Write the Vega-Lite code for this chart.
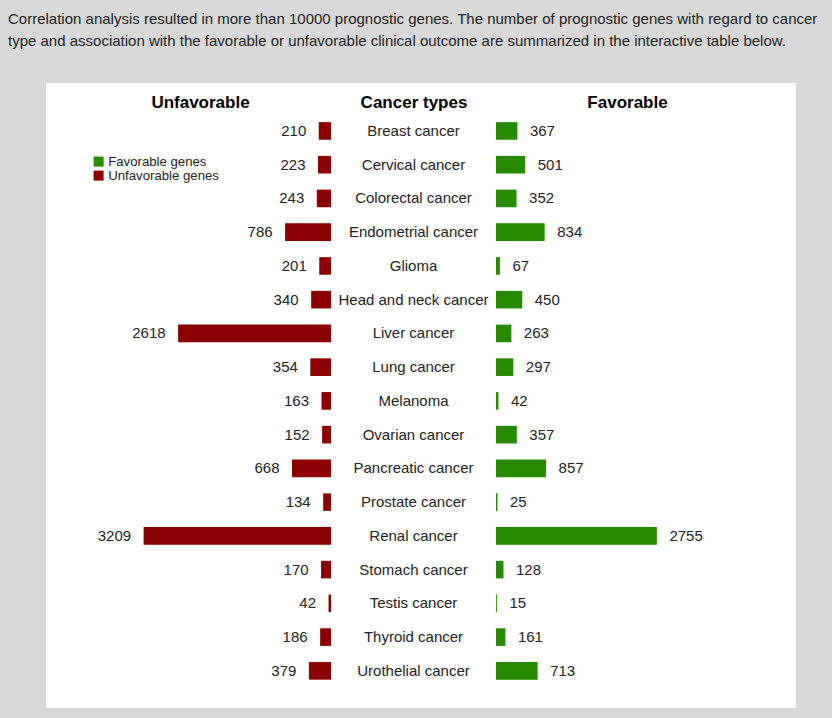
{
  "$schema": "https://vega.github.io/schema/vega-lite/v6.json",
  "background": "#d9d9d9",
  "padding": {"left": 8, "top": 12, "right": 40, "bottom": 16},
  "title": {
    "text": ["Correlation analysis resulted in more than 10000 prognostic genes. The number of prognostic genes with regard to cancer", "type and association with the favorable or unfavorable clinical outcome are summarized in the interactive table below."],
    "anchor": "start",
    "frame": "group",
    "font": "Liberation Sans",
    "fontSize": 15,
    "fontWeight": "normal",
    "color": "#222222",
    "lineHeight": 22,
    "dx": -38,
    "offset": 34
  },
  "config": {
    "axisY": {"domain": false, "ticks": false, "labels": false, "grid": false, "titleAngle": 0, "titleY": 19, "titleAlign": "center", "titleBaseline": "middle", "titleFont": "Liberation Sans", "titleFontSize": 17, "titleFontWeight": "bold", "titleColor": "#000000"}
  },
  "data": {"values": [
    {"cancer": "Breast cancer", "outcome": "Unfavorable genes", "genes": 210},
    {"cancer": "Breast cancer", "outcome": "Favorable genes", "genes": 367},
    {"cancer": "Cervical cancer", "outcome": "Unfavorable genes", "genes": 223},
    {"cancer": "Cervical cancer", "outcome": "Favorable genes", "genes": 501},
    {"cancer": "Colorectal cancer", "outcome": "Unfavorable genes", "genes": 243},
    {"cancer": "Colorectal cancer", "outcome": "Favorable genes", "genes": 352},
    {"cancer": "Endometrial cancer", "outcome": "Unfavorable genes", "genes": 786},
    {"cancer": "Endometrial cancer", "outcome": "Favorable genes", "genes": 834},
    {"cancer": "Glioma", "outcome": "Unfavorable genes", "genes": 201},
    {"cancer": "Glioma", "outcome": "Favorable genes", "genes": 67},
    {"cancer": "Head and neck cancer", "outcome": "Unfavorable genes", "genes": 340},
    {"cancer": "Head and neck cancer", "outcome": "Favorable genes", "genes": 450},
    {"cancer": "Liver cancer", "outcome": "Unfavorable genes", "genes": 2618},
    {"cancer": "Liver cancer", "outcome": "Favorable genes", "genes": 263},
    {"cancer": "Lung cancer", "outcome": "Unfavorable genes", "genes": 354},
    {"cancer": "Lung cancer", "outcome": "Favorable genes", "genes": 297},
    {"cancer": "Melanoma", "outcome": "Unfavorable genes", "genes": 163},
    {"cancer": "Melanoma", "outcome": "Favorable genes", "genes": 42},
    {"cancer": "Ovarian cancer", "outcome": "Unfavorable genes", "genes": 152},
    {"cancer": "Ovarian cancer", "outcome": "Favorable genes", "genes": 357},
    {"cancer": "Pancreatic cancer", "outcome": "Unfavorable genes", "genes": 668},
    {"cancer": "Pancreatic cancer", "outcome": "Favorable genes", "genes": 857},
    {"cancer": "Prostate cancer", "outcome": "Unfavorable genes", "genes": 134},
    {"cancer": "Prostate cancer", "outcome": "Favorable genes", "genes": 25},
    {"cancer": "Renal cancer", "outcome": "Unfavorable genes", "genes": 3209},
    {"cancer": "Renal cancer", "outcome": "Favorable genes", "genes": 2755},
    {"cancer": "Stomach cancer", "outcome": "Unfavorable genes", "genes": 170},
    {"cancer": "Stomach cancer", "outcome": "Favorable genes", "genes": 128},
    {"cancer": "Testis cancer", "outcome": "Unfavorable genes", "genes": 42},
    {"cancer": "Testis cancer", "outcome": "Favorable genes", "genes": 15},
    {"cancer": "Thyroid cancer", "outcome": "Unfavorable genes", "genes": 186},
    {"cancer": "Thyroid cancer", "outcome": "Favorable genes", "genes": 161},
    {"cancer": "Urothelial cancer", "outcome": "Unfavorable genes", "genes": 379},
    {"cancer": "Urothelial cancer", "outcome": "Favorable genes", "genes": 713}
  ]},
  "spacing": 0,
  "resolve": {"scale": {"x": "independent", "y": "shared", "color": "shared"}, "axis": {"y": "independent"}, "legend": {"color": "shared"}},
  "hconcat": [
    {
      "width": 285,
      "height": 625,
      "view": {"fill": "white", "stroke": null},
      "transform": [{"filter": "datum.outcome === 'Unfavorable genes'"}],
      "encoding": {
        "y": {"field": "cancer", "type": "nominal", "sort": null,
              "axis": {"title": "Unfavorable", "titleX": 154},
              "scale": {"paddingInner": 0.478, "paddingOuter": 1.0, "align": 0.58}},
        "x": {"field": "genes", "type": "quantitative", "axis": null,
              "scale": {"domain": [0, 4880], "reverse": true, "nice": false, "zero": true}}
      },
      "layer": [
        {"mark": {"type": "bar"},
         "encoding": {"color": {"field": "outcome", "type": "nominal",
            "scale": {"domain": ["Favorable genes", "Unfavorable genes"], "range": ["#288a00", "#8b0000"]},
            "legend": {"title": null, "orient": "none", "legendX": 46, "legendY": 72, "symbolType": "square", "symbolSize": 100, "symbolStrokeWidth": 0, "labelFont": "Liberation Sans", "labelFontSize": 13.2, "labelColor": "#222222", "labelOffset": 3, "rowPadding": 0, "padding": 0}}}},
        {"mark": {"type": "text", "align": "right", "baseline": "middle", "dx": -12.5, "font": "Liberation Sans", "fontSize": 15, "color": "#222222"},
         "encoding": {"text": {"field": "genes", "type": "quantitative"}}}
      ]
    },
    {
      "width": 165,
      "height": 625,
      "view": {"fill": "white", "stroke": null},
      "transform": [{"filter": "datum.outcome === 'Unfavorable genes'"}],
      "mark": {"type": "text", "align": "center", "baseline": "middle", "font": "Liberation Sans", "fontSize": 15, "color": "#222222"},
      "encoding": {
        "y": {"field": "cancer", "type": "nominal", "sort": null,
              "axis": {"title": "Cancer types", "titleX": 82.5}},
        "text": {"field": "cancer", "type": "nominal"}
      }
    },
    {
      "width": 300,
      "height": 625,
      "view": {"fill": "white", "stroke": null},
      "transform": [{"filter": "datum.outcome === 'Favorable genes'"}],
      "encoding": {
        "y": {"field": "cancer", "type": "nominal", "sort": null,
              "axis": {"title": "Favorable", "titleX": 131}},
        "x": {"field": "genes", "type": "quantitative", "axis": null,
              "scale": {"domain": [0, 5137], "nice": false, "zero": true}}
      },
      "layer": [
        {"mark": {"type": "bar"},
         "encoding": {"color": {"field": "outcome", "type": "nominal"}}},
        {"mark": {"type": "text", "align": "left", "baseline": "middle", "dx": 12.5, "font": "Liberation Sans", "fontSize": 15, "color": "#222222"},
         "encoding": {"text": {"field": "genes", "type": "quantitative"}}}
      ]
    }
  ]
}
